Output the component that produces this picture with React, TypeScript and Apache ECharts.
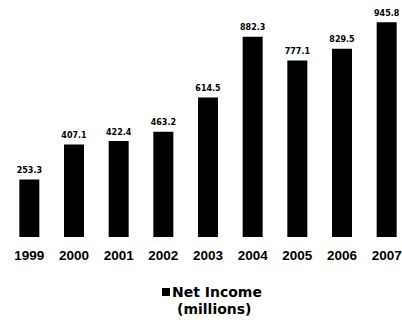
import React, { useEffect, useRef } from "react";
import * as echarts from "echarts";

const years = ["1999", "2000", "2001", "2002", "2003", "2004", "2005", "2006", "2007"];
const netIncome = [253.3, 407.1, 422.4, 463.2, 614.5, 882.3, 777.1, 829.5, 945.8];
const seriesName = "Net Income";
const unitNote = "(millions)";

export default function App() {
  const ref = useRef<HTMLDivElement>(null);
  useEffect(() => {
    if (!ref.current) return;
    const chart = echarts.init(ref.current, undefined, { renderer: "svg" });
    chart.setOption({
      animation: false,
      backgroundColor: "#ffffff",
      grid: {
        left: 7,
        width: 402,
        top: 10,
        bottom: 87,
        containLabel: false,
        outerBoundsMode: "none",
      },
      xAxis: {
        type: "category",
        data: years,
        axisLine: { show: false },
        axisTick: { show: false },
        axisLabel: {
          color: "#000",
          fontFamily: "Liberation Sans, Arial, sans-serif",
          fontWeight: "bold",
          fontSize: 13.5,
          margin: 11,
        },
      },
      yAxis: {
        type: "value",
        min: 0,
        max: 1000,
        show: false,
        splitLine: { show: false },
      },
      legend: {
        data: [seriesName],
        left: 157,
        top: 280,
        icon: "rect",
        itemWidth: 8,
        itemHeight: 8,
        itemGap: 4,
        textStyle: {
          color: "#000",
          fontFamily: "DejaVu Sans, sans-serif",
          fontWeight: "bold",
          fontSize: 14,
          lineHeight: 14,
          padding: [0, 0, 0, -3],
        },
      },
      graphic: [
        {
          type: "text",
          left: 177,
          top: 302,
          style: {
            text: unitNote,
            fill: "#000",
            font: "bold 14px 'DejaVu Sans', sans-serif",
          },
        },
      ],
      series: [
        {
          name: seriesName,
          type: "bar",
          data: netIncome,
          barWidth: 20,
          itemStyle: { color: "#000" },
          label: {
            show: true,
            position: "top",
            distance: 5,
            color: "#000",
            fontFamily: "DejaVu Sans, sans-serif",
            fontWeight: "bold",
            fontSize: 8,
            formatter: (p: any) => p.value.toFixed(1),
          },
        },
      ],
    });
    return () => chart.dispose();
  }, []);
  return (
    <div
      ref={ref}
      style={{ position: "fixed", left: 0, top: 0, width: 402, height: 324 }}
    />
  );
}
